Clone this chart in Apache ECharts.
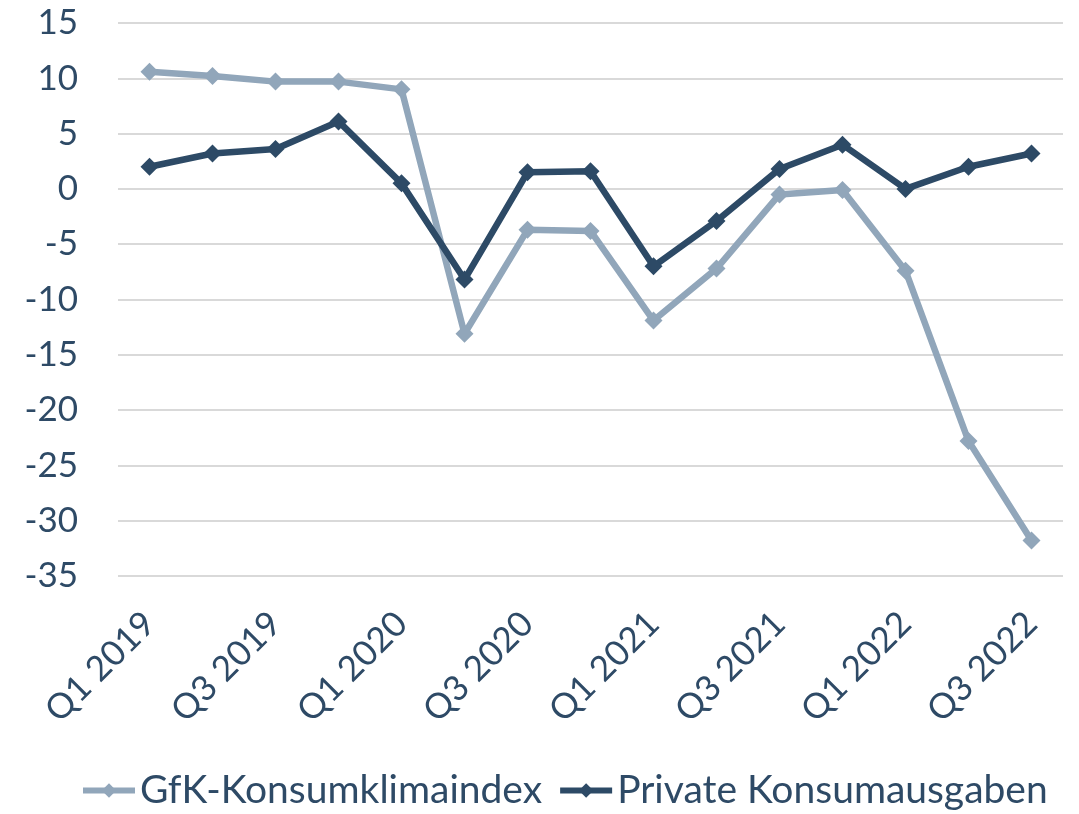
<!DOCTYPE html>
<html>
<head>
<meta charset="utf-8">
<script src="https://cdn.jsdelivr.net/npm/echarts@6/dist/echarts.min.js"></script>
<style>
  html, body { margin: 0; padding: 0; background: #fff; }
  #chart_content { width: 1079px; height: 814px; }
</style>
</head>
<body>
<div id="chart_content"></div>
<script>
// Quartale
let categories = ['Q1 2019', 'Q2 2019', 'Q3 2019', 'Q4 2019',
    'Q1 2020', 'Q2 2020', 'Q3 2020', 'Q4 2020',
    'Q1 2021', 'Q2 2021', 'Q3 2021', 'Q4 2021',
    'Q1 2022', 'Q2 2022', 'Q3 2022'];
let gfkIndex = [10.6, 10.2, 9.7, 9.7, 9.0, -13.1, -3.7, -3.8, -11.9, -7.2, -0.5, -0.1, -7.4, -22.8, -31.8];
let privateSpending = [2.0, 3.2, 3.6, 6.1, 0.5, -8.2, 1.5, 1.6, -7.0, -2.9, 1.8, 4.0, 0.0, 2.0, 3.2];
let yTicks = { min: -35, max: 15, interval: 5 };

let textColor = '#2e4a66';
let fontName = 'Lato';

let chart = echarts.init(document.getElementById('chart_content'));
let option = {
    animation: false,
    textStyle: { fontFamily: fontName },
    grid: {
        left: 118,
        right: 16,
        top: 23,
        bottom: 238,
        outerBoundsMode: 'none'
    },
    legend: {
        bottom: 4,
        left: 80,
        padding: 0,
        itemWidth: 52,
        itemHeight: 18,
        itemGap: 15,
        lineStyle: { width: 6 },
        textStyle: { color: textColor, fontSize: 39, fontFamily: fontName },
        data: ['GfK-Konsumklimaindex', 'Private Konsumausgaben']
    },
    xAxis: {
        type: 'category',
        data: categories,
        boundaryGap: true,
        axisLine: { show: false },
        axisTick: { show: false },
        axisLabel: {
            interval: 1,
            rotate: 45,
            margin: 42,
            color: textColor,
            fontSize: 35,
            fontFamily: fontName
        }
    },
    yAxis: {
        type: 'value',
        min: yTicks.min,
        max: yTicks.max,
        interval: yTicks.interval,
        axisLine: { show: false },
        axisTick: { show: false },
        axisLabel: {
            margin: 40,
            color: textColor,
            fontSize: 35,
            fontFamily: fontName
        },
        splitLine: { lineStyle: { color: '#d9d9d9', width: 2 } }
    },
    series: [
        {
            name: 'GfK-Konsumklimaindex',
            type: 'line',
            data: gfkIndex,
            symbol: 'diamond',
            symbolSize: 18,
            color: '#91a6ba',
            lineStyle: { width: 6.5, color: '#91a6ba' },
            itemStyle: { color: '#91a6ba' }
        },
        {
            name: 'Private Konsumausgaben',
            type: 'line',
            data: privateSpending,
            symbol: 'diamond',
            symbolSize: 18,
            color: '#2d4a66',
            lineStyle: { width: 6.5, color: '#2d4a66' },
            itemStyle: { color: '#2d4a66' }
        }
    ]
};
chart.setOption(option);
</script>
</body>
</html>
